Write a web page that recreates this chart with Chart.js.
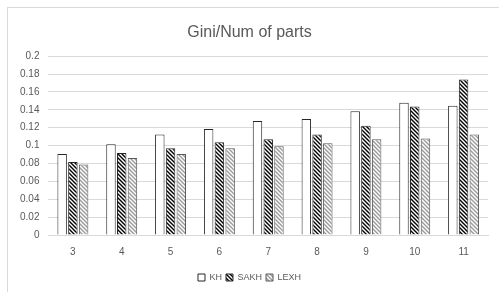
<!DOCTYPE html>
<html>
<head>
<meta charset="utf-8">
<script src="https://cdn.jsdelivr.net/npm/chart.js@4"></script>
<style>
  html, body { margin: 0; padding: 0; background: #fff; }
  #wrap { position: relative; width: 499px; height: 292px; }
  #frame { position: absolute; left: 7px; top: 7px; right: 0; bottom: 0;
           border-left: 1px solid #d9d9d9; border-top: 1px solid #d9d9d9; }
  canvas { position: absolute; left: 0; top: 0; }
</style>
</head>
<body>
<div id="wrap">
  <div id="frame"></div>
  <canvas id="grafico" width="499" height="292"></canvas>
</div>
<script>
// categorias (número de partes)
const categorias = ["3", "4", "5", "6", "7", "8", "9", "10", "11"];

// valores
const valoresKH = [0.0905, 0.1015, 0.1125, 0.1187, 0.1275, 0.1297, 0.1385, 0.148, 0.1447];
const valoresSAKH = [0.0817, 0.0916, 0.0971, 0.1037, 0.107, 0.1125, 0.1223, 0.1436, 0.174];
const valoresLEXH = [0.0788, 0.0861, 0.0905, 0.0971, 0.0993, 0.1026, 0.107, 0.108, 0.1125];

const ticksY = [0, 0.02, 0.04, 0.06, 0.08, 0.1, 0.12, 0.14, 0.16, 0.18, 0.2];

const COR_TEXTO = "#595959";
const FONTE = "'Liberation Sans', Arial, sans-serif";

// listras diagonais para as barras hachuradas
function criarHachura(corLinha, corFundo) {
  const tile = document.createElement("canvas");
  tile.width = 4;
  tile.height = 4;
  const c = tile.getContext("2d");
  c.fillStyle = corFundo;
  c.fillRect(0, 0, 4, 4);
  c.strokeStyle = corLinha;
  c.lineWidth = 1.4;
  c.beginPath();
  c.moveTo(-1, -1);
  c.lineTo(5, 5);
  c.moveTo(-1, 3);
  c.lineTo(1, 5);
  c.moveTo(3, -1);
  c.lineTo(5, 1);
  c.stroke();
  return c.createPattern(tile, "repeat");
}

const ctx = document.getElementById("grafico").getContext("2d");
const hachuraSAKH = criarHachura("#000000", "#ffffff");
const hachuraLEXH = criarHachura("#9a9a9a", "#ffffff");

new Chart(ctx, {
  type: "bar",
  data: {
    labels: categorias,
    datasets: [
      {
        label: "KH",
        data: valoresKH,
        backgroundColor: "#ffffff",
        borderColor: "#262626",
        borderWidth: 1,
      },
      {
        label: "SAKH",
        data: valoresSAKH,
        backgroundColor: hachuraSAKH,
        borderColor: "#262626",
        borderWidth: 1,
      },
      {
        label: "LEXH",
        data: valoresLEXH,
        backgroundColor: hachuraLEXH,
        borderColor: "#595959",
        borderWidth: 1,
      },
    ],
  },
  options: {
    responsive: false,
    animation: false,
    layout: {
      padding: { left: 11, right: 11, top: 6, bottom: 0 },
    },
    datasets: {
      bar: {
        categoryPercentage: 0.66,
        barPercentage: 0.88,
      },
    },
    plugins: {
      title: {
        display: true,
        text: "Gini/Num of parts",
        color: COR_TEXTO,
        font: { family: FONTE, size: 16, weight: "normal" },
        padding: { top: 17, bottom: 14 },
      },
      legend: {
        position: "bottom",
        labels: {
          color: COR_TEXTO,
          font: { family: FONTE, size: 9 },
          boxWidth: 7,
          boxHeight: 7,
          padding: 4,
        },
      },
      tooltip: { enabled: false },
    },
    scales: {
      x: {
        grid: { display: false, drawTicks: false },
        border: { display: true, color: "#d9d9d9" },
        ticks: {
          color: COR_TEXTO,
          font: { family: FONTE, size: 10 },
          padding: 11,
        },
      },
      y: {
        min: 0,
        max: 0.2,
        afterBuildTicks: (eixo) => {
          eixo.ticks = ticksY.map((v) => ({ value: v }));
        },
        grid: { color: "#d9d9d9", drawTicks: false },
        border: { display: false },
        ticks: {
          color: COR_TEXTO,
          font: { family: FONTE, size: 10 },
          padding: 9,
          callback: (v) => String(Math.round(v * 100) / 100),
        },
      },
    },
  },
});
</script>
</body>
</html>
